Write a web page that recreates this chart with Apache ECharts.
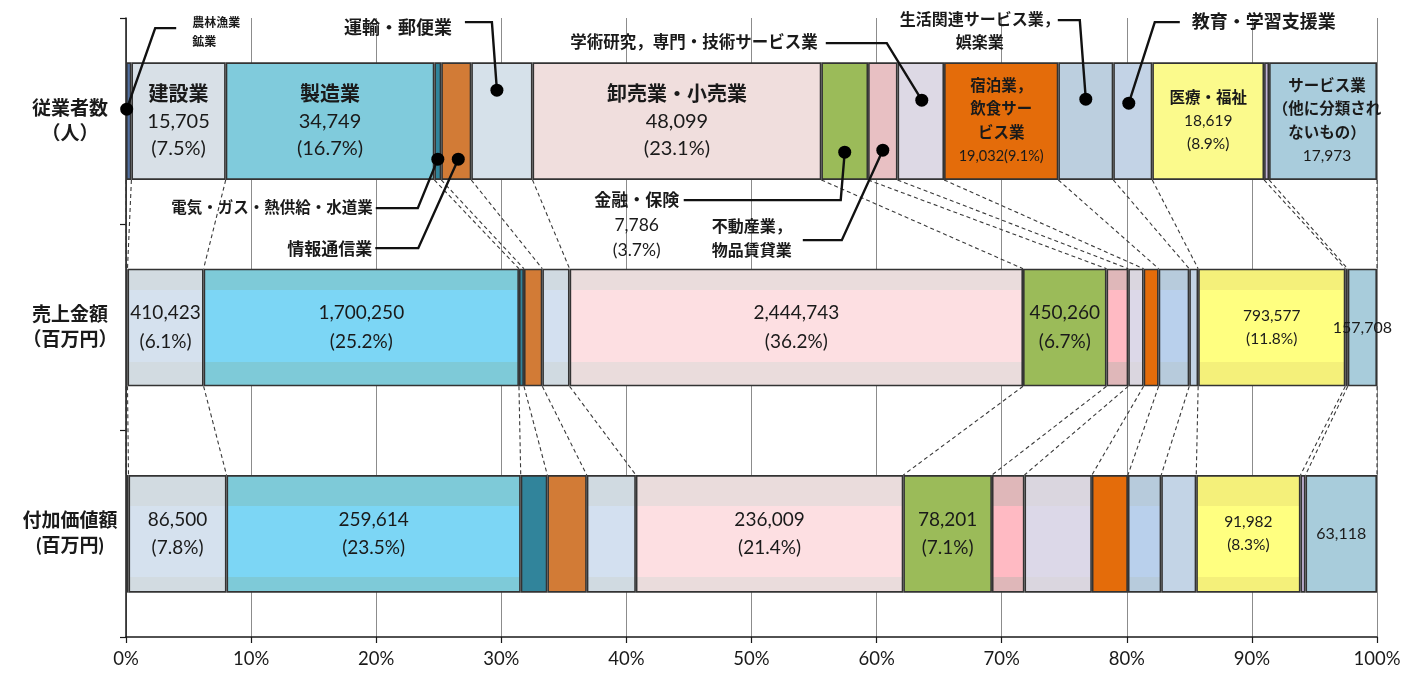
<!DOCTYPE html>
<html>
<head>
<meta charset="utf-8">
<script src="https://cdn.jsdelivr.net/npm/echarts@6/dist/echarts.min.js"></script>
<style>
  html, body { margin: 0; padding: 0; background: #fff; }
  #chart { width: 1417px; height: 675px; }
</style>
</head>
<body>
<div id="chart"></div>
<script>
// ---- data ---------------------------------------------------------------
const industries = [
  '農林漁業，鉱業', '建設業', '製造業', '電気・ガス・熱供給・水道業', '情報通信業',
  '運輸業，郵便業', '卸売業・小売業', '金融業，保険業', '不動産業，物品賃貸業',
  '学術研究，専門・技術サービス業', '宿泊業，飲食サービス業', '生活関連サービス業，娯楽業',
  '教育，学習支援業', '医療，福祉', '複合サービス事業', 'サービス業（他に分類されないもの）'
];
const measures = ['従業者数\n（人）', '売上金額\n（百万円）', '付加価値額\n(百万円)'];

// 従業者数（人）
const employees = [900, 15705, 34749, 1150, 5000, 10200, 48099, 7786, 4900, 7750, 19032, 9150, 6500, 18619, 830, 17973];
// 売上金額（百万円）
const sales = [8000, 410423, 1700250, 27000, 99000, 147000, 2444743, 450260, 117000, 83000, 81000, 165000, 48000, 793577, 13000, 157708];
// 付加価値額（百万円）
const valueAdded = [2200, 86500, 259614, 23500, 34800, 43300, 236009, 78201, 28700, 59500, 31800, 29400, 30900, 91982, 4400, 63118];

// names written inside the 従業者数 bar
const barNames = { 1: '建設業', 2: '製造業', 6: '卸売業・小売業', 10: '宿泊業，\n飲食サー\nビス業', 13: '医療・福祉', 15: 'サービス業\n（他に分類され\nないもの）' };
// names written beside the bars, with leader lines
const calloutNames = {
  0: '農林漁業\n鉱業', 5: '運輸・郵便業', 9: '学術研究，専門・技術サービス業', 11: '生活関連サービス業，\n娯楽業',
  12: '教育・学習支援業', 3: '電気・ガス・熱供給・水道業', 4: '情報通信業', 7: '金融・保険', 8: '不動産業，\n物品賃貸業'
};

// ---- derived shares -----------------------------------------------------
const rowValues = [employees, sales, valueAdded];
const totals = rowValues.map(a => a.reduce((s, v) => s + v, 0));
const shares = rowValues.map((a, r) => a.map(v => v / totals[r] * 100));
const bounds = shares.map(s => { const b = [0]; s.forEach(v => b.push(b[b.length - 1] + v)); return b; });
const fmt = v => v.toLocaleString('en-US');
const pct = (r, i) => shares[r][i].toFixed(1) + '%';

// ---- styling ------------------------------------------------------------
const FONT = 'Lato, "Noto Sans CJK JP", sans-serif';
const TEXT = '#1a1a1a';
const topColor  = ['#5270a0','#d8e0e7','#80cbdc','#31849b','#d27b36','#d6e1ea','#f0dedd','#9bbb59','#e8c0c3','#ddd9e5','#e46c0a','#bccfdf','#c3d3e6','#fbfa8c','#c2b3d6','#a9ccdc'];
const bandColor = ['#4e6d9c','#d2dbe1','#7ecad8','#31849b','#d27b36','#d0dae1','#eadcdc','#9bbb59','#dfb7b9','#dad6df','#e46c0a','#b7cbdc','#c3d4e6','#f4f07a','#c2b3d6','#a8ccdb'];
const midColor  = ['#5778aa','#d5e1ee','#7cd6f5','#31849b','#d27b36','#d3e0f0','#fddfe2','#9bbb59','#ffbac3','#dcd8e8','#e46c0a','#b9d0ec','#c3d4e6','#ffff80','#c2b3d6','#a8ccdb'];

function fillFor(i, r) {
  if (r === 0) return topColor[i];
  const [a, b] = r === 1 ? [0.18, 0.79] : [0.26, 0.87];
  const band = bandColor[i], mid = midColor[i];
  return new echarts.graphic.LinearGradient(0, 0, 0, 1, [
    { offset: 0, color: band }, { offset: a, color: band },
    { offset: a, color: mid }, { offset: b, color: mid },
    { offset: b, color: band }, { offset: 1, color: band }
  ]);
}

// which segments carry a label inside the bar, per row
const labelPlan = [
  { 1: 'L', 2: 'L', 6: 'L', 10: 'I', 13: 'M', 15: 'N' },
  { 1: 'L', 2: 'L', 6: 'L', 7: 'L', 13: 'M', 15: 'V' },
  { 1: 'L', 2: 'L', 6: 'L', 7: 'L', 13: 'M', 15: 'V' }
];

function labelFor(i, r) {
  const kind = labelPlan[r][i];
  if (!kind) return { show: false };
  const v = fmt(rowValues[r][i]), p = '(' + pct(r, i) + ')';
  const names = (r === 0 && barNames[i]) ? barNames[i].split('\n').map(s => '{n|' + s + '}') : [];
  let lines, nSize, vSize, lh;
  if (kind === 'L') {
    lines = names.concat(['{v|' + v + '}', '{v|' + p + '}']);
    nSize = 20; vSize = r === 0 ? 20 : 19; lh = r === 0 ? 27 : 28.5;
  } else if (kind === 'I') {
    lines = names.concat(['{v|' + v + p + '}']);
    nSize = 15.5; vSize = 14.5; lh = 23.5;
  } else if (kind === 'M') {
    lines = names.concat(['{v|' + v + '}', '{v|' + p + '}']);
    nSize = 15.5; vSize = 15.5; lh = 23;
  } else if (kind === 'N') {
    lines = names.concat(['{v|' + v + '}']);
    nSize = 15.5; vSize = 15.5; lh = 23.5;
  } else {
    lines = ['{v|' + v + '}'];
    nSize = 15; vSize = 16; lh = 23;
  }
  return {
    show: true, position: 'inside', overflow: 'none',
    formatter: lines.join('\n'),
    offset: (kind === 'N') ? [4, 0] : [0, 0],
    rich: {
      n: { fontFamily: FONT, fontSize: nSize, fontWeight: 'bold', color: TEXT, lineHeight: lh },
      v: { fontFamily: FONT, fontSize: vSize, color: TEXT, lineHeight: lh }
    }
  };
}

const barSeries = industries.map((name, i) => ({
  type: 'bar', name, stack: 'share', barWidth: '57%', z: 3,
  data: shares.map((s, r) => ({
    value: s[i],
    itemStyle: { color: fillFor(i, r), borderColor: '#333333', borderWidth: 1.6 },
    label: labelFor(i, r)
  }))
}));

// dashed links joining each segment boundary between neighbouring bars
const linkData = [];
for (let r = 0; r < 2; r++) {
  for (let k = 0; k < bounds[r].length; k++) linkData.push([bounds[r][k], bounds[r + 1][k], r]);
}
const linkSeries = {
  type: 'custom', silent: true, z: 2,
  data: linkData, encode: { x: [0, 1], y: 2 },
  renderItem(params, api) {
    const r = api.value(2);
    const a = api.coord([api.value(0), r]);
    const b = api.coord([api.value(1), r + 1]);
    const half = api.size([0, 1])[1] * 0.57 / 2;
    return {
      type: 'line',
      shape: { x1: a[0], y1: a[1] + half, x2: b[0], y2: b[1] - half },
      style: { stroke: '#3a3a3a', lineWidth: 1.1, lineDash: [4, 3], fill: 'none' }
    };
  }
};

// callouts on the 従業者数 bar: dot offset from the segment centre,
// leader path and text position relative to the dot
const calloutLayout = [
  { i: 0,  dot: [-2, -12], path: [[28.5, -81], [49.5, -81]],  text: [65.5, -76.5], align: 'left',   size: 12,   vsize: 12, lh: 18.5 },
  { i: 5,  dot: [-5, -31], path: [[-5, -68], [-32, -68]],     text: [-45, -62],    align: 'right',  size: 18,   vsize: 18, lh: 24 },
  { i: 9,  dot: [1, -21],  path: [[-35, -57], [-96, -57]],    text: [-104, -57],   align: 'right',  size: 16.5, vsize: 16, lh: 24 },
  { i: 11, dot: [0, -22],  path: [[-6, -79], [-28, -79]],     text: [-106, -67.5], align: 'center', size: 16,   vsize: 16, lh: 23 },
  { i: 12, dot: [-4, -18], path: [[26, -81], [51, -81]],      text: [63, -81],     align: 'left',   size: 18,   vsize: 18, lh: 24 },
  { i: 3,  dot: [0, 38],   path: [[-20, 49], [-62, 49]],      text: [-65, 49],     align: 'right',  size: 15.5, vsize: 16, lh: 24 },
  { i: 4,  dot: [2, 38],   path: [[-40, 89], [-83, 89]],      text: [-86, 90],     align: 'right',  size: 17,   vsize: 17, lh: 24 },
  { i: 7,  dot: [0, 31],   path: [[-4, 48], [-161, 48]],      text: [-208, 73],    align: 'center', size: 17,   vsize: 17.5, lh: 25, withValue: true },
  { i: 8,  dot: [0, 29],   path: [[-41, 90], [-80, 90]],      text: [-131, 89],    align: 'center', size: 16,   vsize: 16, lh: 24 }
];

const calloutSeries = {
  type: 'custom', silent: true, z: 10, clip: false,
  data: calloutLayout.map(c => [bounds[0][c.i] + shares[0][c.i] / 2, 0]),
  encode: { x: 0, y: 1 },
  renderItem(params, api) {
    const c = calloutLayout[params.dataIndex];
    const base = api.coord([api.value(0), 0]);
    const d = [base[0] + c.dot[0], base[1] + c.dot[1]];
    const pts = [d].concat(c.path.map(p => [d[0] + p[0], d[1] + p[1]]));
    let lines = calloutNames[c.i].split('\n').map(s => '{n|' + s + '}');
    if (c.withValue) lines = lines.concat(['{v|' + fmt(employees[c.i]) + '}', '{v|(' + pct(0, c.i) + ')}']);
    return {
      type: 'group',
      children: [
        { type: 'polyline', shape: { points: pts }, style: { stroke: '#111', lineWidth: 2.4, fill: 'none' } },
        { type: 'circle', shape: { cx: d[0], cy: d[1], r: 6.5 }, style: { fill: '#000' } },
        {
          type: 'text',
          style: {
            text: lines.join('\n'),
            x: d[0] + c.text[0], y: d[1] + c.text[1],
            align: c.align, verticalAlign: 'middle',
            fill: TEXT,
            rich: {
              n: { fontFamily: FONT, fontSize: c.size, fontWeight: 'bold', fill: TEXT, lineHeight: c.lh, align: c.align },
              v: { fontFamily: FONT, fontSize: c.vsize, fill: TEXT, lineHeight: c.lh, align: c.align }
            }
          }
        }
      ]
    };
  }
};

// ---- chart --------------------------------------------------------------
const chart = echarts.init(document.getElementById('chart'), null, { renderer: 'canvas' });
chart.setOption({
  animation: false,
  backgroundColor: '#ffffff',
  textStyle: { fontFamily: FONT },
  grid: { left: 126, right: 40, top: 18, bottom: 38, containLabel: false, outerBoundsMode: 'none' },
  xAxis: {
    type: 'value', min: 0, max: 100, interval: 10,
    axisLine: { show: true, lineStyle: { color: '#1a1a1a', width: 1.5 } },
    axisTick: { show: true, length: 6, lineStyle: { color: '#1a1a1a', width: 1.2 } },
    axisLabel: { formatter: '{value}%', fontFamily: FONT, fontSize: 18.5, color: TEXT, margin: 13 },
    splitLine: { show: true, lineStyle: { color: '#8c8c8c', width: 1 } }
  },
  yAxis: {
    type: 'category', data: measures, inverse: true,
    axisLine: { show: true, lineStyle: { color: '#1a1a1a', width: 1.5 } },
    axisTick: { show: true, length: 6, lineStyle: { color: '#1a1a1a', width: 1.2 } },
    axisLabel: { align: 'center', margin: 56, fontFamily: FONT, fontSize: 19, fontWeight: 'bold', color: TEXT, lineHeight: 25 },
    splitLine: { show: false }
  },
  series: barSeries.concat([linkSeries, calloutSeries])
});
</script>
</body>
</html>
